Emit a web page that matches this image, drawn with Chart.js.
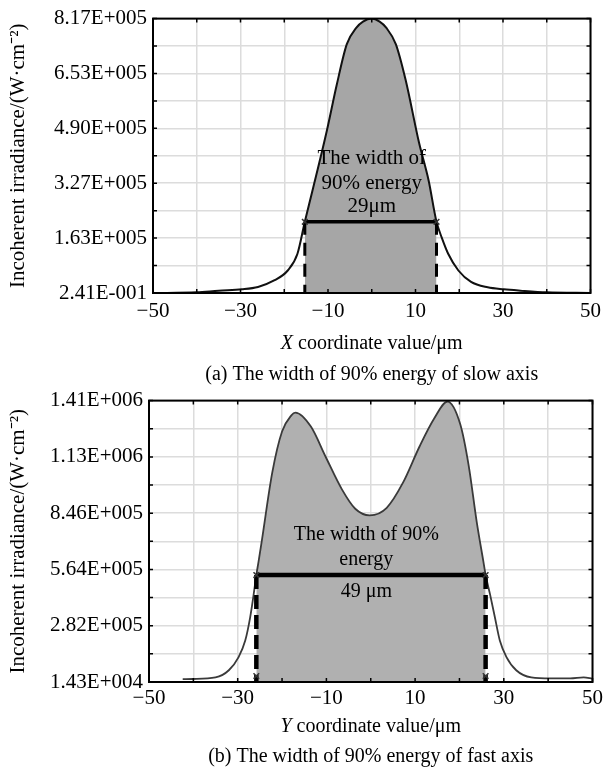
<!DOCTYPE html>
<html lang="en">
<head>
<meta charset="UTF-8">
<title>The width of 90% energy</title>
<script src="https://cdn.jsdelivr.net/npm/chart.js"></script>
<style>
  body { margin: 0; background: #fff; width: 607px; height: 776px; position: relative; overflow: hidden; }
  .box { position: absolute; left: 0; width: 607px; }
  #boxA { top: 0; height: 390px; }
  #boxB { top: 382px; height: 394px; }
</style>
</head>
<body>
<div class="box" id="boxA"><canvas id="chartA"></canvas></div>
<div class="box" id="boxB"><canvas id="chartB"></canvas></div>
<script>
// (a) slow axis profile
const slowX = [-50, -40, -35, -29.7, -26, -22.2, -19.2, -17, -15.3, -13.6, -10.2, -8, -5.7, -3.5, -2, 0,
               1.8, 3.3, 5.5, 7.75, 10.8, 13, 14.8, 16, 17.5, 19.8, 22.7, 26.5, 30.2, 34, 40, 50];
const slowY = [0.241, 2000, 7000, 11000, 18000, 38000, 67000, 116000, 212000, 302000, 487000, 620000, 741000, 790000, 808000, 817000,
               808000, 790000, 741000, 634000, 448000, 335000, 212000, 165000, 116000, 67000, 33000, 17000, 11000, 7000, 2000, 0.241];
const slowYTicks = ['2.41E-001', '1.63E+005', '3.27E+005', '4.90E+005', '6.53E+005', '8.17E+005'];
const slowYMax = 817000;
const slowEdges = [-15.3, 14.8];
const slowLevel = 212000;

// (b) fast axis profile
const fastX = [-42.4, -40.2, -35, -32, -29.8, -28.3, -27.2, -26.4, -25.8, -25.3, -24.6, -22.2, -20, -17.9, -17,
               -13.5, -10.2, -6.5, -3.5, -0.2, 3.6, 7.3, 11, 14.3, 17.3, 20.2, 22.1, 23.9, 25.4, 25.9, 26.9,
               28, 29.1, 30.6, 32.8, 36.2, 40.6, 45, 48, 50];
const fastY = [14300, 15000, 23000, 59000, 125000, 208000, 323000, 439000, 536000, 603000, 702000, 1050000, 1255000, 1336000, 1350000,
               1280000, 1130000, 965000, 868000, 835000, 873000, 1000000, 1180000, 1320000, 1405000, 1290000, 1082000, 801000, 603000, 536000, 439000,
               323000, 208000, 125000, 59000, 23000, 18000, 18000, 23000, 16000];
const fastYTicks = ['1.43E+004', '2.82E+005', '5.64E+005', '8.46E+005', '1.13E+006', '1.41E+006'];
const fastYMax = 1410000;
const fastEdges = [-25.8, 25.9];
const fastLevel = 536000;
const fastFoot = 30000;

const xTickLabels = ['−50', '−30', '−10', '10', '30', '50'];

const SERIF = "'Liberation Serif', 'Times New Roman', serif";

// frame, inner ticks and the text inside/below the plot
const framePlugin = {
  id: 'frame',
  afterDatasetsDraw(chart) {
    const p = chart.config.options.plugins.frame;
    const { ctx, chartArea: a, scales: { x, y } } = chart;
    ctx.save();
    ctx.strokeStyle = '#000';
    ctx.lineWidth = 1.5;
    ctx.beginPath();
    x.ticks.forEach(t => {
      const px = x.getPixelForValue(t.value);
      ctx.moveTo(px, a.top); ctx.lineTo(px, a.top + 4);
      ctx.moveTo(px, a.bottom); ctx.lineTo(px, a.bottom - 4);
    });
    y.ticks.forEach(t => {
      const py = y.getPixelForValue(t.value);
      ctx.moveTo(a.left, py); ctx.lineTo(a.left + 4, py);
      ctx.moveTo(a.right, py); ctx.lineTo(a.right - 4, py);
    });
    ctx.stroke();
    ctx.lineWidth = 2;
    ctx.strokeRect(a.left, a.top, a.right - a.left, a.bottom - a.top);

    ctx.fillStyle = '#000';
    ctx.textAlign = 'center';
    ctx.textBaseline = 'middle';
    ctx.font = p.noteSize + 'px ' + SERIF;
    const nx = x.getPixelForValue(p.noteX);
    const ny = y.getPixelForValue(p.level);
    p.notes.forEach((s, i) => ctx.fillText(s, nx, ny + p.noteDy[i]));

    // axis title with italic variable
    const cx = (a.left + a.right) / 2;
    ctx.font = 'italic 20px ' + SERIF;
    const w1 = ctx.measureText(p.axisVar).width;
    ctx.font = '20px ' + SERIF;
    const w2 = ctx.measureText(p.axisRest).width;
    const x0 = cx - (w1 + w2) / 2;
    ctx.textAlign = 'left';
    ctx.font = 'italic 20px ' + SERIF;
    ctx.fillText(p.axisVar, x0, p.titleY);
    ctx.font = '20px ' + SERIF;
    ctx.fillText(p.axisRest, x0 + w1, p.titleY);
    ctx.textAlign = 'center';
    ctx.fillText(p.caption, cx, p.captionY);
    ctx.restore();
  }
};

function curve(xs, ys) {
  return xs.map((v, i) => ({ x: v, y: ys[i] }));
}

function makeChart(id, p) {
  const pts = curve(p.xs, p.ys);
  const xl = p.edges[0], xr = p.edges[1];
  const inside = pts.filter(d => d.x >= xl && d.x <= xr);
  const marks = [{ x: xl, y: p.level }, { x: xr, y: p.level }];
  if (p.foot) marks.push({ x: xl, y: p.foot }, { x: xr, y: p.foot });

  new Chart(document.getElementById(id), {
    type: 'line',
    data: {
      datasets: [
        { data: inside, fill: 'origin', backgroundColor: p.fill, borderWidth: 0, pointRadius: 0,
          cubicInterpolationMode: 'monotone', order: 6 },
        { data: pts, fill: false, borderColor: p.lineColor, borderWidth: p.lineWidth, pointRadius: 0,
          cubicInterpolationMode: 'monotone', order: 5 },
        { data: [{ x: xl, y: p.level }, { x: xr, y: p.level }], borderColor: '#000', borderWidth: p.barWidth,
          pointRadius: 0, order: 3 },
        { data: [{ x: xl, y: p.level }, { x: xl, y: 0 }], borderColor: '#000', borderWidth: p.dashWidth,
          borderDash: p.dash, pointRadius: 0, order: 4 },
        { data: [{ x: xr, y: p.level }, { x: xr, y: 0 }], borderColor: '#000', borderWidth: p.dashWidth,
          borderDash: p.dash, pointRadius: 0, order: 4 },
        { type: 'scatter', data: marks, pointStyle: 'crossRot', pointRadius: 4, borderColor: '#333',
          borderWidth: 1.5, order: 1 }
      ]
    },
    options: {
      responsive: true,
      maintainAspectRatio: false,
      animation: false,
      layout: { padding: { left: 0, right: p.padRight, top: p.padTop, bottom: 0 } },
      plugins: {
        legend: { display: false },
        tooltip: { enabled: false },
        frame: p
      },
      scales: {
        x: {
          type: 'linear', min: -50, max: 50,
          ticks: {
            stepSize: 10, autoSkip: false, maxRotation: 0, padding: p.xPad, color: '#000',
            font: { family: SERIF, size: 21 },
            callback: (v, i) => (i % 2 === 0 ? xTickLabels[i / 2] : '')
          },
          grid: { color: '#dcdcdc', lineWidth: 1.5, drawTicks: false },
          border: { display: false },
          afterFit: s => { s.height = p.xHeight; }
        },
        y: {
          min: 0, max: p.yMax,
          afterBuildTicks: s => {
            s.ticks = Array.from({ length: 11 }, (_, i) => ({ value: i * p.yMax / 10 }));
          },
          ticks: {
            autoSkip: false, padding: 6, color: '#000',
            font: { family: SERIF, size: 21 },
            callback: (v, i) => (i % 2 === 0 ? p.yTicks[i / 2] : '')
          },
          grid: { color: '#dcdcdc', lineWidth: 1.5, drawTicks: false },
          border: { display: false },
          title: {
            display: true, text: 'Incoherent irradiance/(W·cm⁻²)', color: '#000',
            font: { family: SERIF, size: 21 }, padding: { top: 6, bottom: 0 }
          },
          afterFit: s => { s.width = p.yWidth; }
        }
      }
    },
    plugins: [framePlugin]
  });
}

makeChart('chartA', {
  xs: slowX, ys: slowY, yTicks: slowYTicks, yMax: slowYMax, edges: slowEdges, level: slowLevel,
  fill: '#a6a6a6', lineColor: '#111', lineWidth: 2, barWidth: 3.5, dashWidth: 3, dash: [13, 8],
  padTop: 14, padRight: 9, xHeight: 97, yWidth: 153, xPad: 6,
  notes: ['The width of', '90% energy', '29μm'], noteX: 0, noteDy: [-63, -38, -15], noteSize: 21,
  axisVar: 'X', axisRest: ' coordinate value/μm', titleY: 344,
  caption: '(a) The width of 90% energy of slow axis', captionY: 375
});

makeChart('chartB', {
  xs: fastX, ys: fastY, yTicks: fastYTicks, yMax: fastYMax, edges: fastEdges, level: fastLevel, foot: fastFoot,
  fill: '#b0b0b0', lineColor: '#3a3a3a', lineWidth: 1.8, barWidth: 4.5, dashWidth: 4.5, dash: [14, 6],
  padTop: 15, padRight: 8, xHeight: 94, yWidth: 149, xPad: 4,
  notes: ['The width of 90%', 'energy', '49 μm'], noteX: -1, noteDy: [-40, -15, 17], noteSize: 20,
  axisVar: 'Y', axisRest: ' coordinate value/μm', titleY: 345,
  caption: '(b) The width of 90% energy of fast axis', captionY: 375
});
</script>
</body>
</html>
